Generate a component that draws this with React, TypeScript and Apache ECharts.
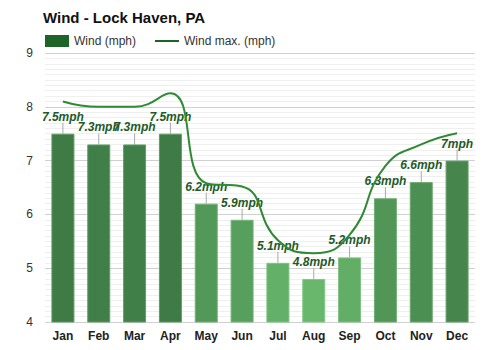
import React, { useEffect, useRef } from "react";
import * as echarts from "echarts";

const months = ["Jan", "Feb", "Mar", "Apr", "May", "Jun", "Jul", "Aug", "Sep", "Oct", "Nov", "Dec"];
const windAvg = [7.5, 7.3, 7.3, 7.5, 6.2, 5.9, 5.1, 4.8, 5.2, 6.3, 6.6, 7.0];
const windMax = [8.1, 8.0, 8.0, 8.25, 6.58, 6.52, 5.52, 5.28, 5.62, 6.9, 7.3, 7.51];

function mix(a: number[], b: number[], t: number) {
  const c = a.map((v, i) => Math.round(v + (b[i] - v) * t));
  return `rgb(${c[0]},${c[1]},${c[2]})`;
}
const light = [104, 183, 108];
const dark = [62, 123, 69];
const lightB = [130, 200, 134];
const darkB = [95, 155, 100];

export default function App() {
  const ref = useRef<HTMLDivElement>(null);
  useEffect(() => {
    document.body.style.margin = "0";
    const chart = echarts.init(ref.current!, null, { renderer: "svg" });
    const barData = windAvg.map((v) => {
      const t = Math.max(0, Math.min(1, (v - 4.8) / (7.5 - 4.8)));
      return {
        value: v,
        itemStyle: { color: mix(light, dark, t), borderColor: mix(lightB, darkB, t), borderWidth: 1 },
      };
    });
    chart.setOption({
      animation: false,
      title: {
        text: "Wind - Lock Haven, PA",
        left: 38,
        top: 5,
        textStyle: { fontFamily: "Liberation Sans, Arial", fontSize: 15, fontWeight: "bold", color: "#111" },
      },
      legend: {
        left: 40,
        top: 30,
        itemWidth: 24,
        itemHeight: 12,
        itemGap: 18,
        textStyle: { fontFamily: "Liberation Sans, Arial", fontSize: 12, color: "#333" },
        data: [
          { name: "Wind (mph)", icon: "rect", itemStyle: { color: "#1e6428", borderWidth: 0 } },
          { name: "Wind max. (mph)", itemStyle: { color: "#1e6428", opacity: 0 }, lineStyle: { color: "#1e6428", width: 2, opacity: 1 } },
        ],
      },
      grid: { left: 45, right: 25, top: 53, bottom: 28 },
      xAxis: {
        type: "category",
        data: months,
        axisLine: { show: false },
        axisTick: { show: false },
        axisLabel: { fontFamily: "Liberation Sans, Arial", fontSize: 12, fontWeight: "bold", color: "#222", margin: 8 },
      },
      yAxis: {
        type: "value",
        min: 4,
        max: 9,
        interval: 1,
        axisLabel: { fontFamily: "Liberation Sans, Arial", fontSize: 12, color: "#333", margin: 12 },
        splitLine: { lineStyle: { color: "#d0d0d0" } },
        minorTick: { show: false, splitNumber: 10 },
        minorSplitLine: { show: true, lineStyle: { color: "#efefef" } },
      },
      series: [
        {
          name: "Wind (mph)",
          type: "bar",
          barWidth: 23,
          data: barData,
          itemStyle: { color: "#1e6428" },
          label: {
            show: true,
            position: "top",
            distance: 11,
            formatter: (p: any) => `${p.value}mph`,
            fontFamily: "Liberation Sans, Arial",
            fontSize: 12,
            fontWeight: "bold",
            fontStyle: "italic",
            color: "#1e5a28",
          },
          z: 2,
        },
        {
          name: "leader",
          type: "custom",
          data: windAvg.map((v, i) => [i, v]),
          renderItem: (params: any, api: any) => {
            const p = api.coord([api.value(0), api.value(1)]);
            return {
              type: "line",
              shape: { x1: p[0], y1: p[1], x2: p[0], y2: p[1] - 11 },
              style: { stroke: "#aaa", lineWidth: 1 },
            };
          },
          z: 1,
          silent: true,
        },
        {
          name: "Wind max. (mph)",
          type: "line",
          data: windMax,
          smooth: true,
          symbol: "none",
          lineStyle: { color: "#2e8a33", width: 2 },
          itemStyle: { color: "#2e8a33" },
          z: 3,
        },
      ],
    });
    return () => chart.dispose();
  }, []);
  return <div ref={ref} style={{ width: 500, height: 350 }} />;
}
